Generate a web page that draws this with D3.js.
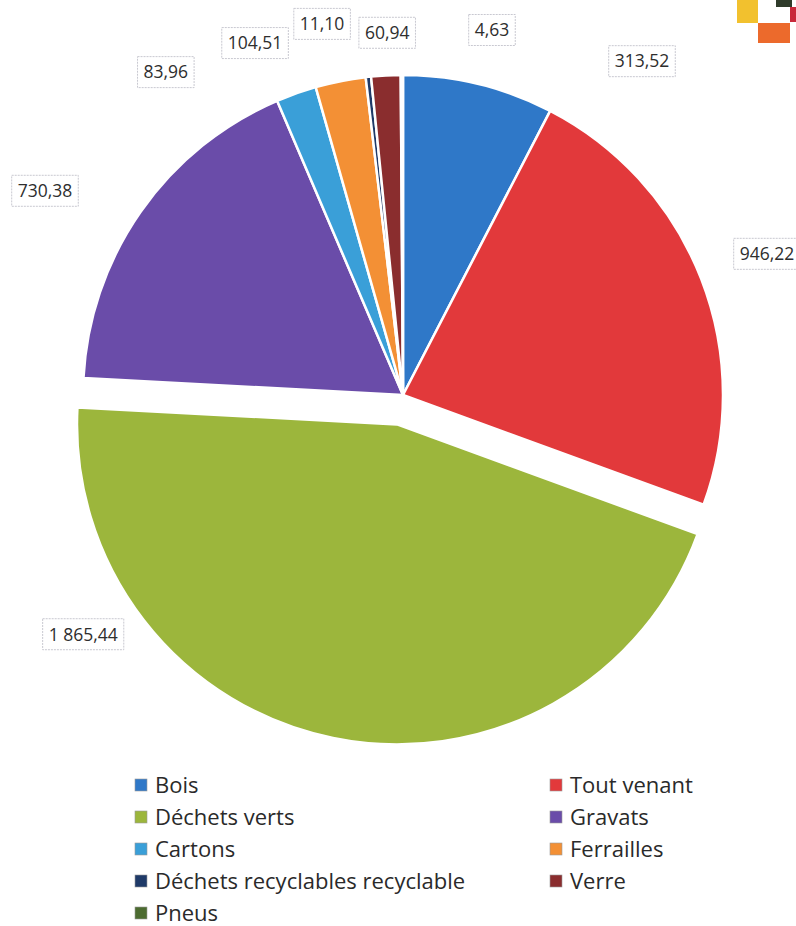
<!DOCTYPE html>
<html>
<head>
<meta charset="utf-8">
<script src="https://cdn.jsdelivr.net/npm/d3@7"></script>
<style>
  html, body { margin: 0; padding: 0; background: #ffffff; }
  svg { display: block; }
</style>
</head>
<body>
<svg id="chart" width="796" height="926"></svg>
<script>
// ---- data ----
const categories = ["Bois", "Tout venant", "Déchets verts", "Gravats", "Cartons", "Ferrailles", "Déchets recyclables recyclable", "Verre", "Pneus"];
const values = [313.52, 946.22, 1865.44, 730.38, 83.96, 104.51, 11.10, 60.94, 4.63];
const colors = ["#2f78c8", "#e2393b", "#9cb63c", "#6a4ca9", "#3a9fd8", "#f39035", "#1f3a68", "#8a2d2e", "#4c6b30"];
const exploded = ["Déchets verts"];
// label placement, polar: angle (degrees clockwise from top) and distance as a multiple of the radius
const labelAngle = [35.6, 68.8, 233.2, 299.7, 323.7, 337.2, 347.7, 357.5, 13.7];
const labelDist = [1.283, 1.22, 1.248, 1.288, 1.252, 1.193, 1.187, 1.133, 1.174];

// ---- layout ----
const W = 796, H = 926;
const cx = 403, cy = 395, R = 320, explode = 30;
const svg = d3.select("#chart");
const FONT = "'Open Sans', Lato, sans-serif";

const fr = d3.formatLocale({decimal: ",", thousands: "\u202f", grouping: [3], currency: ["", " €"]});
const fmt = v => fr.format(",.2f")(v).replace("\u202f", " ");

const data = categories.map((c, i) => ({cat: c, value: values[i], color: colors[i], la: labelAngle[i], ld: labelDist[i]}));
const pie = d3.pie().value(d => d.value).sort(null).startAngle(0).endAngle(2 * Math.PI);
const arcs = pie(data);
const arc = d3.arc().innerRadius(0).outerRadius(R);

const g = svg.append("g").attr("transform", `translate(${cx},${cy})`);
g.selectAll("path.slice").data(arcs).join("path")
  .attr("class", "slice")
  .attr("d", arc)
  .attr("fill", d => d.data.color)
  .attr("stroke", "#ffffff")
  .attr("stroke-width", 2.5)
  .attr("stroke-linejoin", "round")
  .attr("transform", d => {
    if (!exploded.includes(d.data.cat)) return null;
    const a = (d.startAngle + d.endAngle) / 2;
    return `translate(${Math.sin(a) * explode},${-Math.cos(a) * explode})`;
  });

// ---- data labels ----
const lab = g.selectAll("g.lab").data(arcs).join("g").attr("class", "lab")
  .attr("transform", d => {
    const a = d.data.la * Math.PI / 180;
    const r = d.data.ld * R;
    return `translate(${Math.sin(a) * r},${-Math.cos(a) * r})`;
  });
lab.append("text")
  .attr("text-anchor", "middle")
  .attr("dy", "0.36em")
  .attr("font-family", FONT)
  .attr("font-size", 17.5)
  .attr("fill", "#2e2e2e")
  .text(d => fmt(d.data.value));
lab.each(function() {
  const t = d3.select(this).select("text");
  const b = t.node().getBBox();
  d3.select(this).insert("rect", "text")
    .attr("x", b.x - 6).attr("y", -15.5)
    .attr("width", b.width + 12).attr("height", 31)
    .attr("fill", "#ffffff")
    .attr("stroke", "#c8c8d0")
    .attr("stroke-width", 1)
    .attr("stroke-dasharray", "2,1");
});

// ---- legend ----
const legX = [135, 550], legY0 = 785, legDy = 32;
const leg = svg.selectAll("g.leg").data(data).join("g").attr("class", "leg")
  .attr("transform", (d, i) => `translate(${legX[i % 2]},${legY0 + Math.floor(i / 2) * legDy})`);
leg.append("rect").attr("x", 0).attr("y", -6).attr("width", 12).attr("height", 12)
  .attr("fill", d => d.color).attr("stroke", "#9a9a9a").attr("stroke-width", 0.6);
leg.append("text").attr("x", 20).attr("dy", "0.35em")
  .attr("font-family", FONT)
  .attr("font-size", 22)
  .attr("fill", "#2a2a2a")
  .text(d => d.cat);

// ---- decorative corner logo fragment ----
const deco = svg.append("g").attr("class", "deco");
deco.append("rect").attr("x", 737).attr("y", 0).attr("width", 21).attr("height", 23).attr("fill", "#f2c12e");
deco.append("rect").attr("x", 758).attr("y", 23).attr("width", 32).attr("height", 20).attr("fill", "#ec6a2c");
deco.append("rect").attr("x", 776).attr("y", 0).attr("width", 16).attr("height", 7).attr("fill", "#2f3b2a");
deco.append("rect").attr("x", 790).attr("y", 7).attr("width", 6).attr("height", 15).attr("fill", "#c8283a");
</script>
</body>
</html>
